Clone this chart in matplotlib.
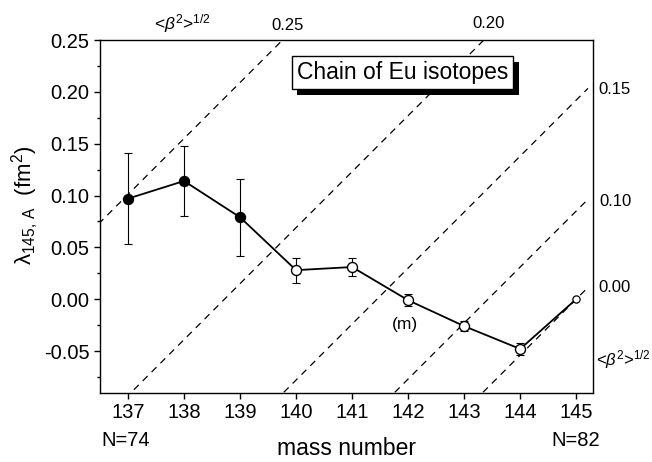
import matplotlib
matplotlib.use("Agg")
import matplotlib.pyplot as plt
import matplotlib.patheffects as pe
from matplotlib.ticker import MultipleLocator
import numpy as np

plt.rcParams['font.family'] = ['Liberation Sans', 'DejaVu Sans']
plt.rcParams['mathtext.fontset'] = 'custom'
plt.rcParams['mathtext.rm'] = 'Liberation Sans'
plt.rcParams['mathtext.it'] = 'Liberation Sans:italic'
plt.rcParams['mathtext.bf'] = 'Liberation Sans:bold'

# ---- data ----
mass = [137, 138, 139, 140, 141, 142, 143, 144, 145]
lam = [0.097, 0.114, 0.079, 0.028, 0.031, -0.001, -0.026, -0.048, 0.000]
lam_err = [0.044, 0.034, 0.037, 0.012, 0.009, 0.006, 0.005, 0.006, 0.0]
filled = [True, True, True, False, False, False, False, False, False]

# iso-deformation lines: value at A=145 and common slope
beta_labels = ["0.25", "0.20", "0.15", "0.10", "0.00"]
iso_at145 = [0.533, 0.339, 0.192, 0.085, 0.000]
iso_slope = 0.054
iso_A = [136.0, 145.21]

W, H = 652, 462
fig = plt.figure(figsize=(W / 100, H / 100), dpi=100)
ax = fig.add_axes([100 / W, 1 - 393 / H, 493 / W, 353 / H])

ax.set_xlim(136.5, 145.3)
ax.set_ylim(-0.0905, 0.25)

# dashed iso lines
for v in iso_at145:
    xs = np.array(iso_A)
    ys = v + iso_slope * (xs - 145)
    ax.plot(xs, ys, ls=(0, (5.5, 4.5)), color='k', lw=0.9, zorder=1)

# error bars
ax.errorbar(mass[:-1], lam[:-1], yerr=lam_err[:-1], fmt='none', ecolor='k',
            elinewidth=0.8, capsize=3, capthick=0.8, zorder=2)
# connecting line
ax.plot(mass, lam, color='k', lw=1.3, zorder=3)
# markers
fx = [m for m, f in zip(mass, filled) if f]
fy = [l for l, f in zip(lam, filled) if f]
ax.plot(fx, fy, 'o', ms=7.2, mfc='k', mec='k', zorder=4, ls='none')
ox = [m for m, f in zip(mass[:-1], filled[:-1]) if not f]
oy = [l for l, f in zip(lam[:-1], filled[:-1]) if not f]
ax.plot(ox, oy, 'o', ms=7.2, mfc='white', mec='k', mew=1.0, zorder=4, ls='none')
ax.plot(mass[-1:], lam[-1:], 'o', ms=5.2, mfc='white', mec='k', mew=0.9, zorder=4, ls='none')

# axes styling
ax.xaxis.set_major_locator(MultipleLocator(1))
ax.yaxis.set_major_locator(MultipleLocator(0.05))
ax.yaxis.set_minor_locator(MultipleLocator(0.025))
ax.tick_params(axis='both', which='major', direction='out', length=4.5, width=1.0,
               labelsize=14.5, pad=3)
ax.tick_params(axis='y', which='minor', direction='out', length=2.5, width=1.0)
ax.tick_params(top=False, right=False)
ax.set_yticks(ax.get_yticks())
ax.set_yticklabels([f"{t:.2f}" for t in ax.get_yticks()])
ax.set_ylim(-0.0905, 0.25)
for s in ax.spines.values():
    s.set_linewidth(1.0)

fig.text(346.5 / W, 1 - 455 / H, "mass number", ha='center', va='baseline', fontsize=16.5)

fig.text(25 / W, 1 - 205 / H, r'$\mathrm{\lambda}_{\mathrm{145,\,A}}$  (fm$^2$)',
         rotation=90, ha='center', va='center', fontsize=16)

# N labels
fig.text(101 / W, 1 - 440 / H, "N=74", ha='left', va='center', fontsize=14.5)
fig.text(600 / W, 1 - 440 / H, "N=82", ha='right', va='center', fontsize=14.5)

# beta labels
beta_sym = r'<$\beta^{2}$>$^{\mathit{1/2}}$'
fig.text(183 / W, 1 - 24 / H, beta_sym, ha='center', va='center', fontsize=12.5)
fig.text(288 / W, 1 - 25 / H, beta_labels[0], ha='center', va='center', fontsize=12)
fig.text(489 / W, 1 - 23.5 / H, beta_labels[1], ha='center', va='center', fontsize=12)
fig.text(598 / W, 1 - 90 / H, beta_labels[2], ha='left', va='center', fontsize=12)
fig.text(599 / W, 1 - 201 / H, beta_labels[3], ha='left', va='center', fontsize=12)
fig.text(598 / W, 1 - 287 / H, beta_labels[4], ha='left', va='center', fontsize=12)
fig.text(596 / W, 1 - 360 / H, beta_sym, ha='left', va='center', fontsize=12)

# (m) annotation
ax.text(141.95, -0.024, "(m)", ha='center', va='center', fontsize=12.5)

# title box with shadow
t = ax.text(141.9, 0.2185, "Chain of Eu isotopes", ha='center', va='center',
            fontsize=16.5, zorder=6,
            bbox=dict(boxstyle='square,pad=0.22', fc='white', ec='k', lw=1.0))
t.get_bbox_patch().set_path_effects([
    pe.SimplePatchShadow(offset=(4, -4), shadow_rgbFace='k', alpha=1.0),
    pe.Normal()])

fig.savefig("out.png", dpi=100)
